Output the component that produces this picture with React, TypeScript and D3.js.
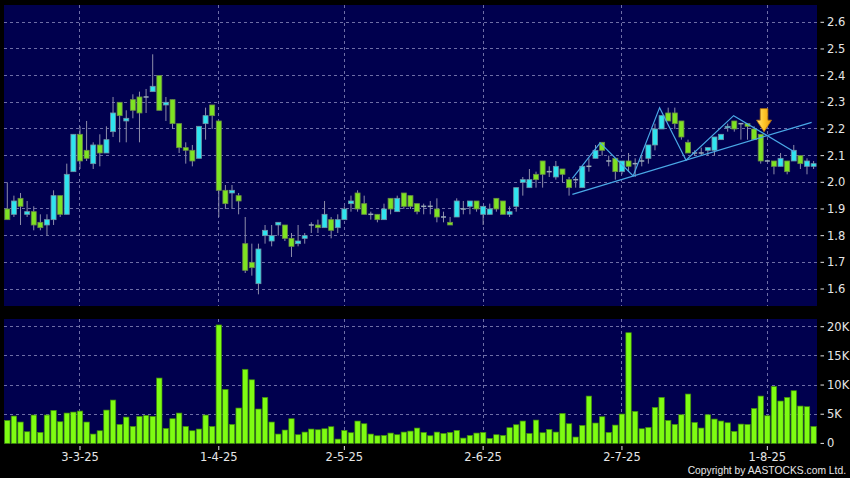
import React from "react";
import * as d3 from "d3";

// ---- data ----
const opens = [1.90,1.88,1.94,1.88,1.89,1.85,1.84,1.86,1.95,1.88,2.04,2.18,2.12,2.07,2.14,2.11,2.19,2.30,2.23,2.31,
  2.32,2.32,2.34,2.40,2.29,2.31,2.22,2.13,2.12,2.09,2.22,2.29,2.23,1.97,1.96,1.95,1.77,1.70,1.62,1.80,
  1.78,1.84,1.84,1.79,1.77,1.79,1.84,1.84,1.83,1.86,1.83,1.86,1.92,1.96,1.92,1.88,1.88,1.86,1.94,1.89,
  1.96,1.95,1.92,1.91,1.91,1.90,1.87,1.85,1.87,1.90,1.91,1.93,1.88,1.88,1.94,1.93,1.88,1.91,2.00,1.98,
  2.03,2.08,2.04,2.02,2.05,2.01,2.01,1.98,2.06,2.09,2.15,2.08,2.09,2.04,2.08,2.07,2.08,2.09,2.14,2.20,
  2.26,2.26,2.23,2.15,2.11,2.11,2.12,2.12,2.16,2.205,2.23,2.22,2.22,2.20,2.18,2.08,2.08,2.06,2.08,2.08,
  2.10,2.06,2.06];
const highs = [2.00,1.95,1.96,1.93,1.91,1.88,1.88,1.97,1.95,2.07,2.18,2.21,2.23,2.15,2.18,2.21,2.32,2.30,2.27,2.33,
  2.34,2.35,2.48,2.40,2.32,2.31,2.22,2.15,2.14,2.21,2.28,2.29,2.23,1.99,1.99,1.96,1.87,1.77,1.77,1.84,
  1.84,1.85,1.84,1.81,1.84,1.81,1.85,1.86,1.93,1.87,1.88,1.91,1.95,1.97,1.95,1.89,1.88,1.92,1.94,1.95,
  1.96,1.95,1.92,1.92,1.93,1.94,1.89,1.87,1.94,1.93,1.93,1.93,1.91,1.92,1.94,1.93,1.91,1.98,2.02,2.05,
  2.04,2.08,2.06,2.08,2.05,2.02,2.02,2.06,2.09,2.14,2.15,2.10,2.09,2.08,2.11,2.09,2.10,2.14,2.22,2.25,
  2.28,2.28,2.23,2.16,2.12,2.13,2.13,2.17,2.18,2.22,2.23,2.22,2.22,2.21,2.18,2.085,2.08,2.11,2.08,2.14,
  2.10,2.09,2.08];
const lows = [1.86,1.87,1.84,1.87,1.82,1.82,1.80,1.84,1.87,1.88,2.04,2.05,2.08,2.05,2.06,2.11,2.17,2.15,2.15,2.24,
  2.15,2.26,2.34,2.27,2.23,2.20,2.11,2.07,2.06,2.09,2.16,2.20,1.87,1.90,1.90,1.88,1.66,1.65,1.58,1.77,
  1.76,1.80,1.78,1.72,1.76,1.77,1.81,1.81,1.83,1.79,1.81,1.86,1.89,1.89,1.88,1.86,1.85,1.86,1.88,1.89,
  1.90,1.90,1.88,1.88,1.88,1.85,1.85,1.84,1.87,1.88,1.88,1.89,1.84,1.88,1.89,1.88,1.87,1.89,1.95,1.98,
  1.98,1.98,2.02,2.01,2.00,1.95,1.98,1.98,2.04,2.09,2.10,2.06,2.01,2.03,2.04,2.02,2.06,2.07,2.12,2.20,
  2.23,2.20,2.16,2.11,2.10,2.10,2.10,2.10,2.16,2.19,2.19,2.16,2.16,2.16,2.07,2.08,2.03,2.06,2.03,2.08,
  2.05,2.03,2.05];
const closes = [1.86,1.93,1.91,1.89,1.84,1.83,1.86,1.95,1.88,2.03,2.18,2.08,2.09,2.14,2.11,2.16,2.26,2.25,2.24,2.27,
  2.26,2.32,2.36,2.27,2.30,2.22,2.13,2.12,2.08,2.21,2.25,2.25,1.97,1.92,1.97,1.93,1.67,1.68,1.75,1.82,
  1.80,1.85,1.79,1.76,1.78,1.80,1.84,1.83,1.88,1.82,1.86,1.90,1.93,1.90,1.88,1.88,1.86,1.90,1.90,1.94,
  1.91,1.91,1.89,1.91,1.91,1.87,1.87,1.84,1.93,1.90,1.93,1.90,1.91,1.90,1.90,1.88,1.89,1.98,2.01,2.01,
  2.01,2.03,2.04,2.06,2.03,1.98,2.01,2.06,2.06,2.12,2.12,2.08,2.04,2.08,2.06,2.07,2.08,2.14,2.20,2.25,
  2.23,2.22,2.17,2.11,2.11,2.11,2.13,2.17,2.18,2.21,2.20,2.22,2.21,2.16,2.08,2.08,2.06,2.09,2.04,2.12,
  2.07,2.08,2.07];
// volume in thousands of shares
const volumes = [3.94,4.69,3.66,2.0,4.86,1.89,4.86,5.66,3.71,5.2,5.37,5.54,3.66,1.6,2.17,5.71,7.43,3.26,4.51,2.91,
  4.63,4.8,4.63,11.2,2.57,4.23,5.2,2.91,2.17,2.46,4.86,2.91,20.3,9.26,3.26,6.06,12.7,10.9,5.89,7.89,
  3.66,1.6,2.29,4.23,1.49,1.94,2.46,2.34,2.51,2.86,0.74,2.23,1.83,3.83,3.37,1.6,1.31,1.37,1.77,1.49,
  1.94,2.11,2.63,1.89,1.31,1.94,1.71,1.89,2.23,0.91,1.37,1.77,1.89,0.86,1.49,1.37,2.69,3.2,3.83,1.71,
  4.0,1.83,2.4,1.94,5.14,3.37,1.09,3.09,8.11,3.49,4.57,1.89,3.14,5.03,18.97,5.49,2.51,2.74,6.17,7.89,
  3.94,3.26,4.91,8.46,3.6,2.63,4.91,4.17,3.83,3.54,2.06,3.31,3.26,6.0,8.11,4.74,9.77,7.26,7.89,9.03,
  6.4,6.29,2.91];

const priceTicks = [1.6,1.7,1.8,1.9,2.0,2.1,2.2,2.3,2.4,2.5,2.6];
const volumeTicks = [0,5,10,15,20];
const volumeTickLabels = ["0","5K","10K","15K","20K"];
const dateLabels = ["3-3-25","1-4-25","2-5-25","2-6-25","2-7-25","1-8-25"];
const dateLabelIdx = [11,32,51,72,93,115];

const trendIdx = [85.5,121.7];
const trendPrice = [1.955,2.225];
const zigzagIdx = [85.5,89.7,94.7,98.7,102.7,109.9,119.05];
const zigzagPrice = [2.015,2.148,2.024,2.28,2.083,2.25,2.115];
const arrowIdx = 114.5;
const arrowPrice = 2.19;

// ---- layout / style ----
const W = 850, H = 478;
const PL = 4, PR = 817;
const MT = 5, MB = 306;
const VT = 319, VB = 443.4;
const BG = "#00004e";
const GRID = "#6e6ea6";
const UP = "#2fe4ef";
const DOWN = "#7ee322";
const VOL = "#7efc12";
const TXT = "#e6e6e6";
const FONT = "'DejaVu Sans', Verdana, sans-serif";

export default function App() {
  const N = volumes.length;
  const x = d3.scaleLinear().domain([0, N - 1]).range([7.3, 813.6]);
  const y = d3.scaleLinear().domain([1.6, 2.6]).range([289, 22.3]);
  const yv = d3.scaleLinear().domain([0, 20]).range([VB, 326.7]);
  const bw = 5;

  const trend = d3.line<number>().x((d, i) => x(trendIdx[i])).y((d, i) => y(trendPrice[i]));
  const zig = d3.line<number>().x((d, i) => x(zigzagIdx[i])).y((d, i) => y(zigzagPrice[i]));

  const ax = x(arrowIdx), ay = y(arrowPrice);

  return (
    <svg width={W} height={H} style={{ position: "absolute", left: 0, top: 0, background: "#000" }}
      fontFamily={FONT}>
      <defs>
        <linearGradient id="arrowGrad" x1="0" x2="1" y1="0" y2="0">
          <stop offset="0" stopColor="#ffe27a" />
          <stop offset="0.5" stopColor="#ffc628" />
          <stop offset="1" stopColor="#e99a12" />
        </linearGradient>
        <clipPath id="mainClip"><rect x={PL} y={MT} width={PR - PL} height={MB - MT} /></clipPath>
      </defs>
      <rect x={0} y={0} width={W} height={H} fill="#000" />
      {/* main panel */}
      <rect x={PL} y={MT} width={PR - PL} height={MB - MT} fill={BG} />
      {priceTicks.map((p) => (
        <line key={"pg" + p} x1={PL} x2={PR} y1={y(p)} y2={y(p)} stroke={GRID} strokeWidth={1}
          strokeDasharray="3,3" shapeRendering="crispEdges" />
      ))}
      {dateLabelIdx.map((di) => (
        <line key={"vg" + di} x1={x(di)} x2={x(di)} y1={MT} y2={MB} stroke={GRID} strokeWidth={1}
          strokeDasharray="3,3" shapeRendering="crispEdges" />
      ))}
      <g clipPath="url(#mainClip)">
        {opens.map((o, i) => {
          const c = closes[i];
          const cx = x(i);
          const up = c > o;
          const flat = Math.abs(c - o) < 0.001;
          const top = y(Math.max(o, c));
          const bot = y(Math.min(o, c));
          return (
            <g key={"c" + i}>
              <line x1={cx} x2={cx} y1={y(highs[i])} y2={y(lows[i])} stroke="#8d8daa" strokeWidth={1} />
              {flat ? (
                <line x1={cx - bw / 2} x2={cx + bw / 2} y1={top} y2={top} stroke="#9aaab8" strokeWidth={1.5} />
              ) : (
                <rect x={cx - bw / 2} y={top} width={bw} height={Math.max(1.5, bot - top)}
                  fill={up ? UP : DOWN} stroke={up ? "#6f94a6" : "#6a8c46"} strokeWidth={0.8} />
              )}
            </g>
          );
        })}
        <path d={trend(trendIdx) || ""} fill="none" stroke="#4aa8e6" strokeWidth={1.2} />
        <path d={zig(zigzagIdx) || ""} fill="none" stroke="#4aa8e6" strokeWidth={1.2} />
        {/* arrow */}
        <path
          d={`M${ax - 3.8},${ay - 23} L${ax + 3.8},${ay - 23} L${ax + 3.8},${ay - 11.5} L${ax + 7.5},${ay - 11.5} L${ax},${ay} L${ax - 7.5},${ay - 11.5} L${ax - 3.8},${ay - 11.5} Z`}
          fill="url(#arrowGrad)" stroke="#b8760a" strokeWidth={0.8} />
      </g>
      {/* price axis */}
      {priceTicks.map((p) => (
        <g key={"pt" + p}>
          <line x1={820.5} x2={824} y1={y(p)} y2={y(p)} stroke={TXT} strokeWidth={1} />
          <text x={827} y={y(p) + 4} fontSize={11.5} fill={TXT}>{p.toFixed(1)}</text>
        </g>
      ))}

      {/* volume panel */}
      <rect x={PL} y={VT} width={PR - PL} height={VB - VT} fill={BG} />
      {volumeTicks.filter((v) => v > 0).map((v) => (
        <line key={"vgl" + v} x1={PL} x2={PR} y1={yv(v)} y2={yv(v)} stroke={GRID} strokeWidth={1}
          strokeDasharray="3,3" shapeRendering="crispEdges" />
      ))}
      {dateLabelIdx.map((di) => (
        <line key={"vvg" + di} x1={x(di)} x2={x(di)} y1={VT} y2={VB} stroke={GRID} strokeWidth={1}
          strokeDasharray="3,3" shapeRendering="crispEdges" />
      ))}
      {volumes.map((v, i) => (
        <rect key={"v" + i} x={x(i) - 2.7} y={yv(v)} width={5.4} height={VB - yv(v)}
          fill={VOL} stroke="#3f8a0c" strokeWidth={0.7} />
      ))}
      {volumeTicks.map((v, i) => (
        <g key={"vt" + v}>
          <line x1={820.5} x2={824} y1={yv(v)} y2={yv(v)} stroke={TXT} strokeWidth={1} />
          <text x={827} y={yv(v) + 4} fontSize={11.5} fill={TXT}>{volumeTickLabels[i]}</text>
        </g>
      ))}

      {/* date axis */}
      {dateLabelIdx.map((di, i) => (
        <g key={"dl" + di}>
          <line x1={x(di)} x2={x(di)} y1={446} y2={450} stroke={TXT} strokeWidth={1} />
          <text x={x(di)} y={460.5} fontSize={11.5} fill={TXT} textAnchor="middle">{dateLabels[i]}</text>
        </g>
      ))}
      <text x={846} y={473.5} fontSize={10.3} fill={TXT} textAnchor="end"
        fontFamily="'Liberation Sans', Arial, sans-serif">Copyright by AASTOCKS.com Ltd.</text>
    </svg>
  );
}
